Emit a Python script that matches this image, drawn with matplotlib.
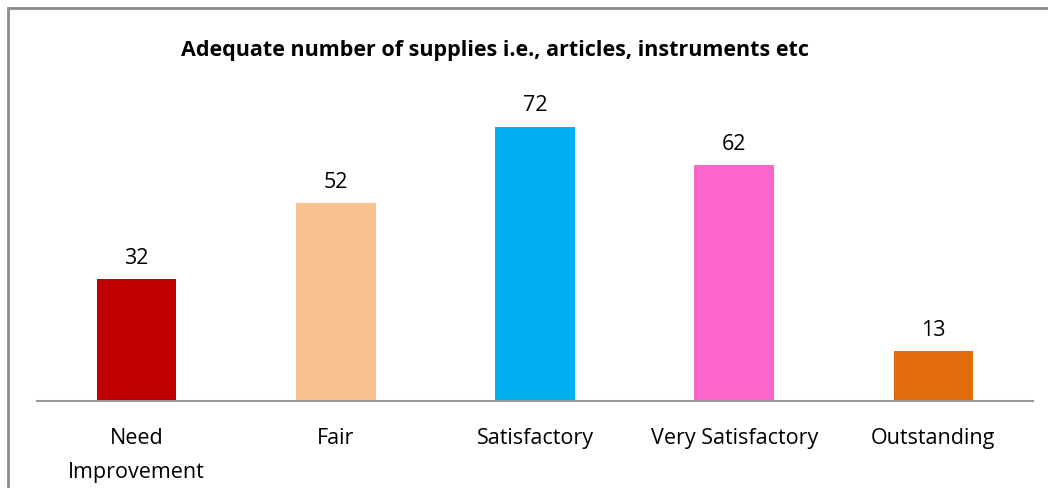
import matplotlib
matplotlib.use("Agg")
import matplotlib.pyplot as plt
from matplotlib.patches import Rectangle

categories = ["Need\nImprovement", "Fair", "Satisfactory", "Very Satisfactory", "Outstanding"]
values = [32, 52, 72, 62, 13]
colors = ["#C00000", "#F8C291", "#00B0F0", "#FF66CC", "#E36C0A"]
title = "Adequate number of supplies i.e., articles, instruments etc"

plt.rcParams['font.family'] = ['Open Sans', 'DejaVu Sans']

W, H = 1048, 489
fig = plt.figure(figsize=(W/100, H/100), dpi=100)
ax = fig.add_axes([37/W, 1-402/H, (1033-37)/W, (402-97)/H])

x = list(range(len(categories)))
bars = ax.bar(x, values, width=0.4, color=colors)
for xi, v in zip(x, values):
    ax.annotate(str(v), (xi, v), xytext=(0, 8), textcoords="offset points",
                ha="center", va="bottom", fontsize=15.5)

ax.set_xlim(-0.5, 4.5)
ax.set_ylim(0, 80)
ax.set_yticks([])
ax.set_xticks(x)
ax.set_xticklabels(categories, fontsize=15.5, linespacing=1.8)
ax.tick_params(axis='x', length=0, pad=19)
for s in ["top", "right", "left"]:
    ax.spines[s].set_visible(False)
ax.spines["bottom"].set_color("#999999")
ax.spines["bottom"].set_linewidth(1.5)

fig.text(495/W, 1-51/H, title, ha="center", va="center", fontsize=15.5, fontweight="bold")

fig.patches.append(Rectangle((8/W, -0.1), 1.2, 1-9/H+0.1, transform=fig.transFigure,
                             fill=False, edgecolor="#8C8C8C", linewidth=2))

fig.savefig("out.png", dpi=100)
